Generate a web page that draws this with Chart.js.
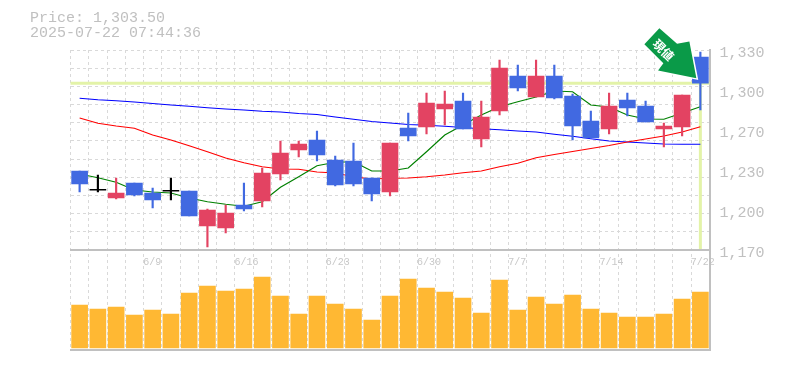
<!DOCTYPE html>
<html>
<head>
<meta charset="utf-8">
<style>html,body{margin:0;padding:0;background:#fff}#wrap{width:785px;height:370px;position:relative}</style>
<script src="https://cdn.jsdelivr.net/npm/chart.js@4/dist/chart.umd.min.js"></script>
</head>
<body>
<div id="wrap"><canvas id="c" width="785" height="370"></canvas></div>
<script>
const titleLines = ['Price: 1,303.50', '2025-07-22 07:44:36'];
const dates = ['6/3','6/4','6/5','6/6','6/9','6/10','6/11','6/12','6/13','6/16','6/17','6/18','6/19','6/20','6/23','6/24','6/25','6/26','6/27','6/30','7/1','7/2','7/3','7/4','7/7','7/8','7/9','7/10','7/11','7/14','7/15','7/16','7/17','7/18','7/22'];
const labeledDates = ['6/9','6/16','6/23','6/30','7/7','7/14','7/22'];
const priceTickValues = [1170,1202,1234,1266,1298,1330];
const priceTickLabels = ['1,170','1,200','1,230','1,270','1,300','1,330'];
const lastPrice = 1303.5;
const arrowText = '現値';

const opens  = [1233.2,1217.8,1211.6,1223.6,1215.6,1217,1217.2,1189.2,1187.6,1206,1209.2,1230.8,1250,1258,1242,1241.2,1227.6,1216.4,1267.6,1268.4,1282.8,1289.2,1258.8,1281.2,1309.2,1292.4,1309.2,1293.2,1273.2,1266.8,1290,1285.2,1266.8,1268.4,1324.4];
const closes = [1222.8,1217.8,1215.6,1214,1210,1217,1197.2,1202,1199.6,1202.8,1231.6,1247.6,1254.8,1246,1222,1222.8,1214.8,1255.6,1261.2,1287.6,1286.8,1266.8,1276.4,1315.6,1299.6,1309.2,1291.6,1269.2,1259.6,1285.2,1283.6,1272.4,1269.2,1294,1303.5];
const highs  = [1233.2,1230,1227.6,1223.6,1219.6,1227.6,1217.2,1202.8,1206,1223.6,1235.6,1257.2,1257.2,1265.2,1245.2,1255.6,1227.6,1255.6,1279.6,1295.6,1297.2,1295.6,1289.2,1322,1318,1322,1318,1294.8,1281.2,1295.6,1295.6,1289.2,1271.6,1294,1328.4];
const lows   = [1216.4,1216.4,1210.8,1213.2,1203.6,1210,1197.2,1172.4,1183.6,1201.2,1204.4,1226,1244.4,1241.2,1221.2,1221.2,1209.2,1213.2,1257.2,1262.8,1270,1266.8,1252.4,1278,1297.2,1292.4,1290.8,1258,1259.6,1262.8,1277.2,1272.4,1252.4,1261.2,1282];
const maShort = [1230.8,1227.8,1224.2,1218,1216.4,1215.6,1211.6,1208.6,1206.6,1205,1208.6,1220.2,1228.6,1237.4,1240.2,1240.6,1233.2,1233.2,1235.6,1248.6,1262,1270,1278,1284.6,1288.6,1292.4,1297.2,1296.6,1286,1284.4,1278,1274.8,1274.6,1279.6,1284.6];
const maMid   = [1275.6,1271.4,1269.2,1267.4,1262,1258,1253.4,1248.6,1243.6,1239.8,1236.6,1234.8,1234.6,1232.4,1231.6,1228.6,1226.8,1227.4,1227.6,1228.6,1230,1231.8,1233.2,1236.6,1239.4,1243.8,1246.4,1248.8,1251.2,1253.6,1256.4,1258.8,1261.2,1264.4,1268.6];
const maLong  = [1291.4,1290.2,1289.4,1288.4,1287.2,1286,1285,1283.8,1282.8,1282,1281,1280.4,1279.2,1278.4,1276.4,1274.6,1272.8,1271.6,1270.4,1269.8,1269,1268,1267,1266.2,1265.2,1264.4,1262.6,1261,1259,1257.2,1256.4,1255.6,1254.8,1254.6,1254.6];
const volumes = [43,39,41,33,38,34,55,62,57,59,71,52,34,52,44,39,28,52,69,60,56,50,35,68,38,51,44,53,39,35,31,31,34,49,56];

const UP = '#e34362', DOWN = '#4169e1', FLAT = '#000000';
const candleColors = opens.map((o, i) => closes[i] > o ? UP : closes[i] < o ? DOWN : FLAT);
const GRID = '#d9d9d9', AXIS = '#c0c0c0', TEXT = '#c0c0c0';
const MONO = '"Liberation Mono", monospace';

const overlay = {
  id: 'overlay',
  beforeDatasetsDraw(chart) {
    const {ctx, chartArea: a, scales} = chart;
    const px = scales.x.getPixelForValue(dates.length - 1);
    const py = scales.y.getPixelForValue(lastPrice);
    const bottom = scales.y.getPixelForValue(priceTickValues[0]);
    ctx.save();
    ctx.strokeStyle = '#e3f3a8';
    ctx.lineWidth = 3;
    ctx.beginPath();
    ctx.moveTo(a.left, py); ctx.lineTo(a.right, py);
    ctx.moveTo(px, py); ctx.lineTo(px, bottom - 1);
    ctx.stroke();
    ctx.restore();
  },
  afterDatasetsDraw(chart) {
    const {ctx, scales} = chart;
    const tx = scales.x.getPixelForValue(dates.length - 1) - 4;
    const ty = scales.y.getPixelForValue(lastPrice) - 5;
    const shape = [[0,0],[-38.3,-7.6],[-33,-15],[-52,-34],[-37,-50],[-19.3,-34.3],[-7,-36.6]];
    ctx.save();
    ctx.beginPath();
    shape.forEach((p, i) => i ? ctx.lineTo(tx + p[0], ty + p[1]) : ctx.moveTo(tx + p[0], ty + p[1]));
    ctx.closePath();
    ctx.lineJoin = 'miter';
    ctx.lineWidth = 3;
    ctx.strokeStyle = '#ffffff';
    ctx.stroke();
    ctx.fillStyle = '#0a9a48';
    ctx.fill();
    ctx.translate(tx - 33, ty - 28);
    ctx.rotate(Math.PI / 4);
    ctx.fillStyle = '#ffffff';
    ctx.font = 'bold 12px "Noto Sans CJK JP"';
    ctx.textAlign = 'center';
    ctx.textBaseline = 'middle';
    ctx.fillText(arrowText, 0, 0);
    ctx.restore();
  }
};

new Chart(document.getElementById('c'), {
  type: 'bar',
  data: {
    labels: dates,
    datasets: [
      {type:'bar', label:'Candle', data: opens.map((o,i)=>[o,closes[i]]), backgroundColor:candleColors, barThickness:16, minBarLength:1, grouped:false, yAxisID:'y', order:1},
      {type:'bar', label:'Range', data: lows.map((l,i)=>[l,highs[i]]), backgroundColor:candleColors, barThickness:1.5, grouped:false, yAxisID:'y', order:2},
      {type:'line', label:'MA short', data:maShort, borderColor:'#008000', borderWidth:1.2, pointRadius:0, tension:0, yAxisID:'y', order:3},
      {type:'line', label:'MA mid', data:maMid, borderColor:'#ff0000', borderWidth:1.2, pointRadius:0, tension:0, yAxisID:'y', order:4},
      {type:'line', label:'MA long', data:maLong, borderColor:'#0000ff', borderWidth:1.2, pointRadius:0, tension:0, yAxisID:'y', order:5},
      {type:'bar', label:'Volume', data:volumes, backgroundColor:'#ffb833', barThickness:16, grouped:false, yAxisID:'vol', order:6}
    ]
  },
  options: {
    responsive:false, animation:false, devicePixelRatio:1,
    layout:{padding:{left:30,bottom:20,top:0,right:0}},
    plugins:{
      legend:{display:false}, tooltip:{enabled:false},
      title:{display:true, text:titleLines, align:'start', color:TEXT, fullSize:true,
             font:{family:MONO,size:15,lineHeight:1,weight:'normal'}, padding:{top:11,bottom:9}}
    },
    scales:{
      x:{
        type:'category', position:{y:priceTickValues[0]}, offset:true,
        grid:{display:true, offset:true, color:GRID, lineWidth:1, drawTicks:false, tickLength:0},
        border:{display:true, color:AXIS, width:2, dash:[3,3]},
        ticks:{autoSkip:false, maxRotation:0, minRotation:0, align:'start', labelOffset:-9.5, padding:6, color:'#c8c8c8',
               font:{family:MONO,size:10},
               callback(v,i){ return labeledDates.includes(dates[i]) ? dates[i] : ''; }}
      },
      xBase:{
        type:'category', labels:dates, position:'bottom', offset:true,
        grid:{display:false, drawTicks:false, tickLength:0},
        border:{display:true, color:AXIS, width:2},
        ticks:{display:false}
      },
      yGrid:{
        type:'linear', position:'left', min:1090, max:1330,
        afterBuildTicks(s){ s.ticks = Array.from({length:12},(_, k)=>({value: priceTickValues[0] + k*(priceTickValues[5]-priceTickValues[0])/11})); },
        grid:{drawTicks:false, tickLength:0, color:GRID, lineWidth:1},
        border:{display:false, dash:[3,3]},
        ticks:{display:false},
        afterFit(s){ s.width = 40.5; }
      },
      y:{
        type:'linear', position:'right', min:1090, max:1330,
        afterBuildTicks(s){ s.ticks = priceTickValues.map(v=>({value:v})); },
        grid:{display:false, drawTicks:false, tickLength:0},
        border:{display:true, color:AXIS, width:2},
        ticks:{color:TEXT, padding:10, labelOffset:3, font:{family:MONO,size:15},
               callback(v,i){ return priceTickLabels[i]; }},
        afterFit(s){ s.width = 75.5; }
      },
      vol:{type:'linear', display:false, position:'right', min:-2, max:298}
    }
  },
  plugins:[overlay]
});
</script>
</body>
</html>
